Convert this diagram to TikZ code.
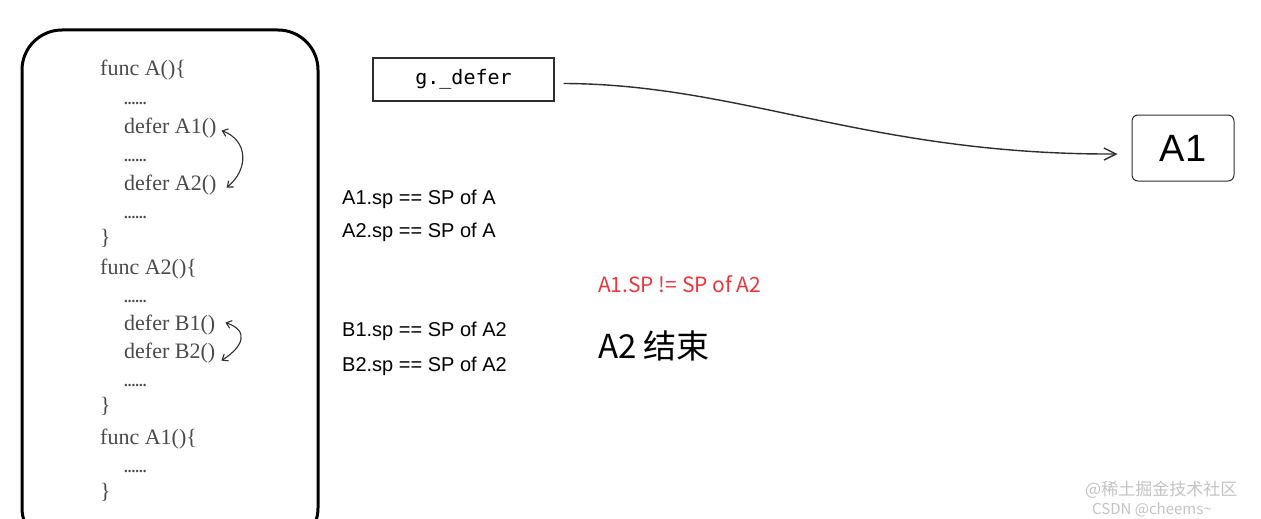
\documentclass[tikz,border=0pt]{standalone}
\usepackage{fontspec}
\setmainfont{Liberation Serif}
\newfontfamily\handfont{Liberation Sans}
\newfontfamily\boxfont{DejaVu Sans Mono}
\newfontfamily\cjkfont{Noto Sans CJK SC}
\usetikzlibrary{arrows.meta,positioning}
\definecolor{codegray}{HTML}{4A4A4A}
\definecolor{inkgray}{HTML}{2E2E2E}
\definecolor{alertred}{HTML}{E8383D}
\definecolor{markgray}{HTML}{C4C4C4}

\begin{document}
\begin{tikzpicture}[x=1pt,y=-1pt,
    codeline/.style={anchor=base west,inner sep=0pt,text=codegray,font=\fontsize{22}{24}\selectfont},
    dotline/.style={anchor=base west,inner sep=0pt,text=codegray,font=\fontsize{15}{16}\selectfont\bfseries},
    handline/.style={anchor=base west,inner sep=0pt,text=black,font=\handfont\fontsize{20}{22}\selectfont},
    swap/.style={<->,inkgray,line width=1.1pt,>={Straight Barb[length=5pt,width=8pt]}}]
  \useasboundingbox (0,0) rectangle (1261,519);
  \clip (0,0) rectangle (1261,519);
  \fill[white] (0,0) rectangle (1261,519);

  % code panel
  \draw[line width=3pt,rounded corners=40pt] (22,30) rectangle (318,548);
  \foreach \nm/\x/\y/\txt in {fA/100/76/{func A()\{}, dA1/124/133/{defer A1()}, dA2/124/190/{defer A2()},
      eA/100/244/\}, fA2/100/274/{func A2()\{}, dB1/124/330/{defer B1()}, dB2/124/358/{defer B2()},
      eA2/100/412/\}, fA1/100/444/{func A1()\{}, eA1/100/498/\}}
    \node[codeline] (\nm) at (\x,\y) {\txt};
  \foreach \y in {104,161,218,302,386,472}
    \node[dotline] (dot\y) at (124,\y) {......};

  % defer order
  \draw[swap] ([shift={(5,3)}]dA1.east) .. controls +(27,10) and +(22,-18) .. ([shift={(10,3)}]dA2.east);
  \draw[swap] ([shift={(10,-2)}]dB1.east) .. controls +(24,8) and +(22,-14) .. ([shift={(6,8)}]dB2.east);

  % g._defer -> A1
  \node[draw=inkgray,line width=1.2pt,minimum width=181pt,minimum height=43pt,inner sep=0pt,
        font=\boxfont\fontsize{20}{22}\selectfont] (gdefer) at (463.5,79.5) {g.\_defer};
  \node[draw=inkgray,line width=1pt,rounded corners=6pt,minimum width=102pt,minimum height=66pt,inner sep=0pt,
        font=\handfont\fontsize{38}{40}\selectfont] (a1) at (1183,148) {A1};
  \draw[->,inkgray,line width=1.4pt,>={Straight Barb[length=12pt,width=12pt]}]
    ([shift={(9,4)}]gdefer.east) .. controls (740,84) and (870,155) .. ([shift={(-14,6)}]a1.west);

  % stack pointers
  \node[handline] (spA1) at (342,204) {A1.sp == SP of A};
  \node[handline] (spA2) at (342,237) {A2.sp == SP of A};
  \node[handline] (spB1) at (342,336) {B1.sp == SP of A2};
  \node[handline] (spB2) at (342,371) {B2.sp == SP of A2};
  \node[anchor=base west,inner sep=0pt,text=alertred,font=\cjkfont\fontsize{21}{23}\selectfont] (neq) at (598,292) {A1.SP != SP of A2};
  \node[anchor=base west,inner sep=0pt,font=\cjkfont\fontsize{33}{35}\selectfont] (endA2) at (598,358) {A2 结束};

  % watermark
  \node[anchor=base west,inner sep=0pt,text=markgray,font=\cjkfont\fontsize{17}{19}\selectfont] (wm1) at (1085,495) {@稀土掘金技术社区};
  \node[anchor=base west,inner sep=0pt,text=markgray,font=\cjkfont\fontsize{15}{17}\selectfont] (wm2) at (1092,514) {CSDN @cheems\textasciitilde};
\end{tikzpicture}
\end{document}
